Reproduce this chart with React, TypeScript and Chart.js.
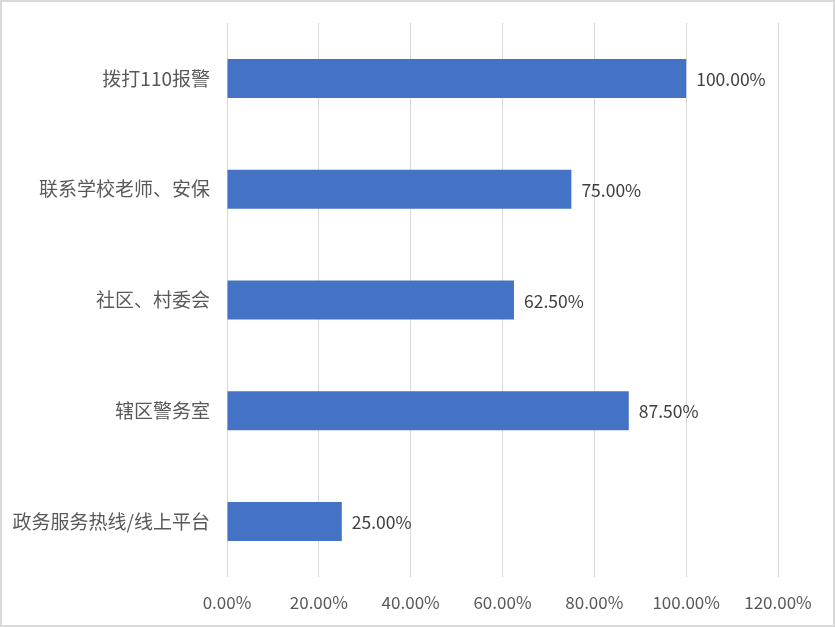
import React, { useEffect, useRef } from "react";
import { Chart, registerables } from "chart.js";

Chart.register(...registerables);

const categories = ["拨打110报警", "联系学校老师、安保", "社区、村委会", "辖区警务室", "政务服务热线/线上平台"];
const values = [1.0, 0.75, 0.625, 0.875, 0.25];
const xTicks = [0, 0.2, 0.4, 0.6, 0.8, 1.0, 1.2];

const FONT = "'Noto Sans CJK SC', 'Noto Sans', sans-serif";

const fmt = (v: number) => (v * 100).toFixed(2) + "%";

const borderPlugin = {
  id: "outerBorder",
  afterDraw(chart: any) {
    const ctx = chart.ctx;
    ctx.save();
    ctx.strokeStyle = "#d9d9d9";
    ctx.lineWidth = 2;
    ctx.strokeRect(1, 1, chart.width - 2, chart.height - 2);
    ctx.restore();
  },
};

const labelPlugin = {
  id: "barLabels",
  afterDatasetsDraw(chart: any) {
    const ctx = chart.ctx;
    const meta = chart.getDatasetMeta(0);
    ctx.save();
    ctx.font = `17.5px ${FONT}`;
    ctx.fillStyle = "#404040";
    ctx.textAlign = "left";
    ctx.textBaseline = "middle";
    meta.data.forEach((bar: any, i: number) => {
      ctx.fillText(fmt(values[i]), bar.x + 10, bar.y + 1);
    });
    ctx.restore();
  },
};

export default function App() {
  const ref = useRef<HTMLCanvasElement | null>(null);
  useEffect(() => {
    if (!ref.current) return;
    const chart = new Chart(ref.current, {
      type: "bar",
      data: {
        labels: categories,
        datasets: [
          {
            data: values,
            backgroundColor: "#4472C4",
            borderWidth: 0,
            barPercentage: 1,
            categoryPercentage: 0.352,
          },
        ],
      },
      options: {
        indexAxis: "y",
        animation: false,
        responsive: false,
        maintainAspectRatio: false,
        layout: { padding: { top: 23, right: 57, bottom: 0, left: 0 } },
        plugins: { legend: { display: false }, tooltip: { enabled: false } },
        scales: {
          x: {
            min: 0,
            max: 1.2,
            afterFit: (s: any) => {
              s.height = 50;
            },
            afterBuildTicks: (s: any) => {
              s.ticks = xTicks.map((v) => ({ value: v }));
            },
            ticks: {
              callback: (v: any) => fmt(Number(v)),
              color: "#595959",
              font: { family: FONT, size: 17 },
              padding: 15,
              maxRotation: 0,
              autoSkip: false,
            },
            grid: { color: "#d9d9d9", drawTicks: false, lineWidth: 1 },
            border: { display: false },
          },
          y: {
            afterFit: (s: any) => {
              s.width = 227;
              s.paddingTop = 0;
              s.paddingBottom = 0;
            },
            ticks: {
              color: "#595959",
              font: { family: FONT, size: 19 },
              padding: 17,
            },
            grid: { display: false, drawTicks: false },
            border: { display: false },
          },
        },
      },
      plugins: [labelPlugin, borderPlugin],
    });
    return () => chart.destroy();
  }, []);
  return (
    <div style={{ position: "fixed", left: 0, top: 0, width: 835, height: 627, background: "#fff" }}>
      <canvas ref={ref} width={835} height={627} style={{ width: 835, height: 627, display: "block" }} />
    </div>
  );
}
